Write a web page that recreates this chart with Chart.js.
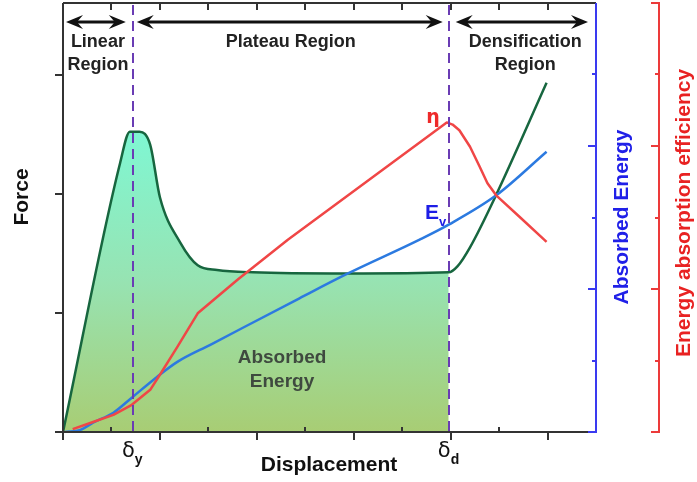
<!DOCTYPE html>
<html>
<head>
<meta charset="utf-8">
<script src="https://cdn.jsdelivr.net/npm/chart.js@4.4.0/dist/chart.umd.min.js"></script>
<style>
  html, body { margin: 0; padding: 0; background: #fff; }
</style>
</head>
<body>
<canvas id="chart" width="697" height="482"></canvas>
<script>
// force vs displacement
const forceX = [0, 0.59, 0.69, 0.79, 0.90, 1.00, 1.21, 1.39, 1.59, 1.96, 2.93, 3.98, 4.07, 4.20, 4.47, 4.99];
const forceY = [0, 2.26, 2.52, 2.52, 2.41, 1.97, 1.59, 1.40, 1.36, 1.34, 1.33, 1.34, 1.39, 1.55, 1.99, 2.93];
// absorbed energy Ev
const energyX = [0.02, 0.18, 0.31, 0.52, 0.71, 0.97, 1.18, 1.52, 2.44, 2.93, 3.68, 3.98, 4.47, 4.99];
const energyY = [0, 0.03, 0.13, 0.27, 0.48, 0.77, 0.98, 1.22, 1.87, 2.21, 2.69, 2.90, 3.31, 3.92];
// energy absorption efficiency (eta)
const etaX = [0.10, 0.31, 0.52, 0.71, 0.90, 1.00, 1.18, 1.39, 1.81, 2.32, 3.96, 4.02, 4.09, 4.20, 4.30, 4.38, 4.47, 4.71, 4.99];
const etaY = [0.04, 0.14, 0.24, 0.38, 0.59, 0.80, 1.19, 1.66, 2.14, 2.69, 4.33, 4.30, 4.22, 3.99, 3.71, 3.48, 3.31, 3.01, 2.66];

const deltaY = 0.72;
const deltaD = 3.98;
const regionNames = [['Linear', 'Region'], ['Plateau Region'], ['Densification', 'Region']];
const xMajorTicks = [0, 1, 2, 3, 4, 5];
const xMinorTicks = [0.5, 1.5, 2.5, 3.5, 4.5];
const forceTicks = [0, 1, 2, 3];
const rightMajorTicks = [0, 2, 4];
const rightMinorTicks = [1, 3, 5];

function pts(xs, ys) {
  return xs.map((x, i) => ({ x: x, y: ys[i] }));
}

const FONT = '"Liberation Sans", Arial, sans-serif';

function arrowHead(ctx, x, y, dir) {
  // dir = 1 points right, -1 points left
  ctx.beginPath();
  ctx.moveTo(x, y);
  ctx.lineTo(x - dir * 17, y - 7);
  ctx.lineTo(x - dir * 11, y);
  ctx.lineTo(x - dir * 17, y + 7);
  ctx.closePath();
  ctx.fill();
}

function doubleArrow(ctx, x1, x2, y) {
  ctx.beginPath();
  ctx.moveTo(x1 + 8, y);
  ctx.lineTo(x2 - 8, y);
  ctx.stroke();
  arrowHead(ctx, x1, y, -1);
  arrowHead(ctx, x2, y, 1);
}

const decorPlugin = {
  id: 'decor',
  afterDatasetsDraw(chart) {
    const ctx = chart.ctx;
    const a = chart.chartArea;
    const sx = chart.scales.x, sf = chart.scales.yF, se = chart.scales.yE, sn = chart.scales.yN;
    ctx.save();

    // frame: left, bottom, top in dark grey
    ctx.strokeStyle = '#333';
    ctx.lineWidth = 2;
    ctx.beginPath();
    ctx.moveTo(a.left, a.top);
    ctx.lineTo(a.right, a.top);
    ctx.moveTo(a.left, a.top);
    ctx.lineTo(a.left, a.bottom);
    ctx.moveTo(a.left - 8, a.bottom);
    ctx.lineTo(a.right, a.bottom);
    ctx.stroke();

    // left ticks (outward)
    ctx.beginPath();
    forceTicks.forEach(v => {
      const y = Math.round(sf.getPixelForValue(v));
      ctx.moveTo(a.left - 8, y);
      ctx.lineTo(a.left, y);
    });
    // bottom major (outward) and minor (inward)
    xMajorTicks.forEach(v => {
      const x = Math.round(sx.getPixelForValue(v));
      ctx.moveTo(x, a.bottom);
      ctx.lineTo(x, a.bottom + 8);
    });
    xMinorTicks.forEach(v => {
      const x = Math.round(sx.getPixelForValue(v));
      ctx.moveTo(x, a.bottom);
      ctx.lineTo(x, a.bottom - 5);
    });
    // top ticks (inward)
    xMajorTicks.concat(xMinorTicks).forEach(v => {
      if (v === 0) return;
      const x = Math.round(sx.getPixelForValue(v));
      ctx.moveTo(x, a.top);
      ctx.lineTo(x, a.top + 7);
    });
    ctx.stroke();

    // blue right axis
    ctx.strokeStyle = '#3a3af0';
    ctx.lineWidth = 2;
    ctx.beginPath();
    ctx.moveTo(a.right, a.top);
    ctx.lineTo(a.right, a.bottom);
    rightMajorTicks.forEach(v => {
      const y = Math.round(se.getPixelForValue(v));
      ctx.moveTo(a.right + 1, y);
      ctx.lineTo(a.right - 8, y);
    });
    rightMinorTicks.forEach(v => {
      const y = Math.round(se.getPixelForValue(v));
      ctx.moveTo(a.right, y);
      ctx.lineTo(a.right - 4, y);
    });
    ctx.stroke();

    // red detached axis
    const rx = a.right + 63;
    ctx.strokeStyle = '#ec3a3a';
    ctx.beginPath();
    ctx.moveTo(rx - 8, a.top);
    ctx.lineTo(rx, a.top);
    ctx.lineTo(rx, a.bottom);
    ctx.lineTo(rx - 8, a.bottom);
    rightMajorTicks.concat([6]).forEach(v => {
      const y = Math.round(sn.getPixelForValue(v));
      ctx.moveTo(rx, y);
      ctx.lineTo(rx - 8, y);
    });
    rightMinorTicks.forEach(v => {
      const y = Math.round(sn.getPixelForValue(v));
      ctx.moveTo(rx, y);
      ctx.lineTo(rx - 4, y);
    });
    ctx.stroke();

    // dashed delta lines
    ctx.strokeStyle = '#6a3cb4';
    ctx.lineWidth = 2;
    ctx.setLineDash([10, 6]);
    [deltaY, deltaD].forEach(v => {
      const x = Math.round(sx.getPixelForValue(v));
      ctx.beginPath();
      ctx.moveTo(x, a.top + 2);
      ctx.lineTo(x, a.bottom);
      ctx.stroke();
    });
    ctx.setLineDash([]);

    // region arrows
    const pY = sx.getPixelForValue(deltaY), pD = sx.getPixelForValue(deltaD);
    ctx.strokeStyle = '#111';
    ctx.fillStyle = '#111';
    ctx.lineWidth = 3;
    const ay = 22;
    doubleArrow(ctx, a.left + 3, pY - 7, ay);
    doubleArrow(ctx, pY + 4, pD - 6, ay);
    doubleArrow(ctx, pD + 7, a.right - 8, ay);

    // region labels
    ctx.fillStyle = '#222';
    ctx.font = 'bold 18px ' + FONT;
    ctx.textAlign = 'center';
    ctx.textBaseline = 'middle';
    const centers = [(a.left + pY) / 2, (pY + pD) / 2, (pD + a.right) / 2 + 3];
    regionNames.forEach((lines, i) => {
      lines.forEach((t, j) => ctx.fillText(t, centers[i], 42 + j * 23));
    });

    // axis titles
    ctx.fillStyle = '#111';
    ctx.font = 'bold 21px ' + FONT;
    ctx.fillText('Displacement', 329, 465);
    ctx.save();
    ctx.translate(22, 197);
    ctx.rotate(-Math.PI / 2);
    ctx.fillText('Force', 0, 0);
    ctx.restore();

    ctx.save();
    ctx.fillStyle = '#2020e8';
    ctx.translate(a.right + 26, 217);
    ctx.rotate(-Math.PI / 2);
    ctx.fillText('Absorbed Energy', 0, 0);
    ctx.restore();

    ctx.save();
    ctx.fillStyle = '#e82222';
    ctx.translate(rx + 25, 213);
    ctx.rotate(-Math.PI / 2);
    ctx.fillText('Energy absorption efficiency', 0, 0);
    ctx.restore();

    // delta tick labels
    ctx.fillStyle = '#111';
    [[deltaY, 'y'], [deltaD, 'd']].forEach(([v, s]) => {
      const x = sx.getPixelForValue(v);
      ctx.font = '21px "DejaVu Sans", sans-serif';
      ctx.textAlign = 'right';
      ctx.fillText('\u03b4', x + 2, 452);
      ctx.textAlign = 'left';
      ctx.font = 'bold 14px ' + FONT;
      ctx.fillText(s, x + 2, 460);
    });

    // inside labels
    ctx.textAlign = 'center';
    ctx.fillStyle = '#3f4a3f';
    ctx.font = 'bold 19px ' + FONT;
    ctx.fillText('Absorbed', 282, 358);
    ctx.fillText('Energy', 282, 382);

    ctx.fillStyle = '#ee2a2a';
    ctx.font = 'bold 19px "DejaVu Sans", sans-serif';
    ctx.fillText('\u03b7', 433, 118);

    ctx.fillStyle = '#1e1ee6';
    ctx.font = 'bold 21px ' + FONT;
    ctx.textAlign = 'right';
    ctx.fillText('E', 439, 213);
    ctx.textAlign = 'left';
    ctx.font = 'bold 13px ' + FONT;
    ctx.fillText('v', 439, 222);

    ctx.restore();
  }
};

new Chart(document.getElementById('chart').getContext('2d'), {
  type: 'line',
  data: {
    datasets: [
      {
        // shaded absorbed energy region under the force curve up to densification
        data: pts(forceX.slice(0, forceX.indexOf(deltaD) + 1), forceY.slice(0, forceX.indexOf(deltaD) + 1)),
        yAxisID: 'yF',
        borderWidth: 0,
        pointRadius: 0,
        cubicInterpolationMode: 'monotone',
        fill: 'origin',
        order: 4,
        backgroundColor: function (c) {
          const ch = c.chart;
          const a = ch.chartArea;
          if (!a) return 'rgba(0,0,0,0)';
          const g = ch.ctx.createLinearGradient(0, ch.scales.yF.getPixelForValue(2.52), 0, a.bottom);
          g.addColorStop(0, '#7ff7d3');
          g.addColorStop(0.5, '#97e3b2');
          g.addColorStop(1, '#a8cd74');
          return g;
        }
      },
      {
        data: pts(forceX, forceY),
        yAxisID: 'yF',
        borderColor: '#17663f',
        borderWidth: 2.5,
        pointRadius: 0,
        cubicInterpolationMode: 'monotone',
        fill: false,
        order: 3
      },
      {
        data: pts(energyX, energyY),
        yAxisID: 'yE',
        borderColor: '#2c7ae0',
        borderWidth: 2.5,
        pointRadius: 0,
        cubicInterpolationMode: 'monotone',
        fill: false,
        order: 2
      },
      {
        data: pts(etaX, etaY),
        yAxisID: 'yN',
        borderColor: '#f04646',
        borderWidth: 2.5,
        pointRadius: 0,
        tension: 0,
        borderJoinStyle: 'round',
        fill: false,
        order: 1
      }
    ]
  },
  options: {
    responsive: false,
    animation: false,
    devicePixelRatio: 1,
    layout: { padding: { left: 63, top: 3, right: 101, bottom: 50 } },
    plugins: { legend: { display: false }, tooltip: { enabled: false } },
    scales: {
      x: { type: 'linear', min: 0, max: 5.5, display: false },
      yF: { type: 'linear', min: 0, max: 3.6, display: false },
      yE: { type: 'linear', min: 0, max: 6, display: false },
      yN: { type: 'linear', min: 0, max: 6, display: false }
    }
  },
  plugins: [decorPlugin]
});
</script>
</body>
</html>
